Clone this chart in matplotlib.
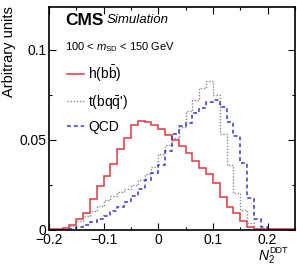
import numpy as np
import matplotlib
matplotlib.use("Agg")
import matplotlib.pyplot as plt
from matplotlib.ticker import MultipleLocator, FixedFormatter, FixedLocator

# Binning of the N2DDT histograms
edges = np.linspace(-0.2, 0.25, 37)

# Bin contents (arbitrary units)
hbb = [0.0005, 0.0006, 0.0012, 0.0028, 0.006, 0.0096, 0.017, 0.0244, 0.030,
       0.0367, 0.045, 0.051, 0.058, 0.0605, 0.060, 0.0585, 0.056, 0.0528,
       0.050, 0.0467, 0.0426, 0.038, 0.0343, 0.031, 0.026, 0.0185, 0.013,
       0.0093, 0.0052, 0.0018, 0.0006, 0.0003, 0.0003, 0.0003, 0.0003, 0.0003]
top = [0.0, 0.0, 0.0003, 0.002, 0.005, 0.008, 0.0105, 0.0135, 0.0165,
       0.019, 0.021, 0.0225, 0.025, 0.028, 0.031, 0.035, 0.042, 0.047,
       0.051, 0.057, 0.066, 0.072, 0.0787, 0.0828, 0.075, 0.053, 0.036,
       0.0204, 0.011, 0.004, 0.0005, 0.0, 0.0, 0.0, 0.0, 0.0]
qcd = [0.0, 0.0, 0.0, 0.0005, 0.0015, 0.0028, 0.0045, 0.0062, 0.008,
       0.0105, 0.013, 0.0155, 0.019, 0.0225, 0.028, 0.0315, 0.036, 0.044,
       0.053, 0.0575, 0.0595, 0.065, 0.0676, 0.0713, 0.0722, 0.068, 0.060,
       0.052, 0.037, 0.018, 0.006, 0.0018, 0.0, 0.0, 0.0, 0.0]

labels = [r"h(b$\bar{\mathrm{b}}$)", r"t(bq$\bar{\mathrm{q}}$')", "QCD"]

plt.rcParams["font.family"] = ["Liberation Sans", "DejaVu Sans"]
plt.rcParams["mathtext.fontset"] = "custom"
plt.rcParams["mathtext.rm"] = "Liberation Sans"
plt.rcParams["mathtext.it"] = "Liberation Sans:italic"
plt.rcParams["mathtext.bf"] = "Liberation Sans:bold"

fig = plt.figure(figsize=(2.97, 2.64), dpi=100)
ax = fig.add_axes([0.165, 0.129, 0.828, 0.846])

ax.stairs(hbb, edges, color="#e4373f", lw=1.1, baseline=None, label=labels[0])
ax.stairs(top, edges, color="#8a8a8a", lw=1.0, ls=(0, (1, 1.2)), baseline=None, label=labels[1])
ax.stairs(qcd, edges, color="#3535d0", lw=1.1, ls=(0, (2.5, 2)), baseline=None, label=labels[2])

ax.set_xlim(-0.2, 0.25)
ax.set_ylim(0, 0.124)

ax.xaxis.set_major_locator(FixedLocator([-0.2, -0.1, 0, 0.1, 0.2]))
ax.xaxis.set_major_formatter(FixedFormatter(["\u22120.2", "\u22120.1", "0", "0.1", "0.2"]))
ax.xaxis.set_minor_locator(MultipleLocator(0.05))
ax.yaxis.set_major_locator(FixedLocator([0, 0.05, 0.1]))
ax.yaxis.set_major_formatter(FixedFormatter(["0", "0.05", "0.1"]))
ax.yaxis.set_minor_locator(MultipleLocator(0.025))

ax.tick_params(which="both", direction="in", top=True, right=True, labelsize=10, width=0.8)
ax.tick_params(which="major", length=5, pad=2)
ax.tick_params(which="minor", length=2.5)
for s in ax.spines.values():
    s.set_linewidth(1.2)

ax.set_ylabel("Arbitrary units", fontsize=10.5, loc="top", labelpad=2)

# x axis title N_2^DDT, built from pieces so it stays compact like the ROOT one
fig.text(0.869, 0.017, "N", fontsize=10, style="italic", va="baseline")
fig.text(0.905, 0.005, "2", fontsize=7, va="baseline")
fig.text(0.906, 0.040, "DDT", fontsize=6.5, va="baseline")

ax.text(0.065, 0.94, "CMS", transform=ax.transAxes, fontsize=12.5, fontweight="bold", va="center")
ax.text(0.235, 0.94, "Simulation", transform=ax.transAxes, fontsize=9.5, style="italic", va="center")
ax.text(0.065, 0.82, r"100 < $m_{\mathrm{SD}}$ < 150 GeV", transform=ax.transAxes, fontsize=8, va="center")

ax.legend(loc="upper left", bbox_to_anchor=(0.035, 0.79), frameon=False, fontsize=10,
          handlelength=1.2, handletextpad=0.3, labelspacing=0.65, borderpad=0.2)

fig.savefig("out.png", dpi=100)
